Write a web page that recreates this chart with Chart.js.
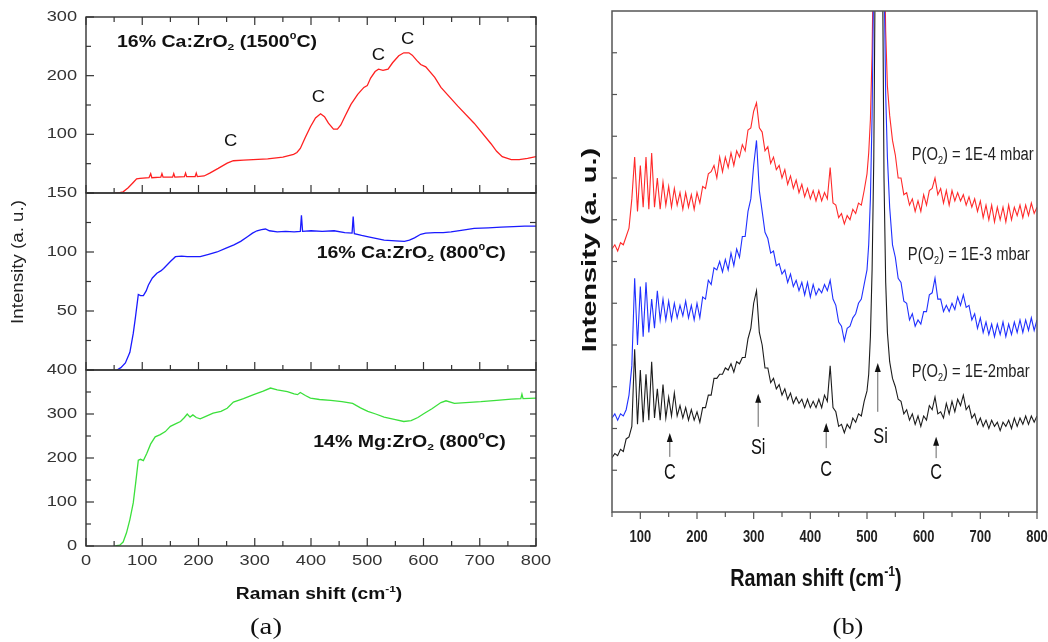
<!DOCTYPE html>
<html lang="en">
<head>
  <meta charset="UTF-8" />
  <title>Raman spectra - doped ZrO2</title>
  <script src="https://cdn.jsdelivr.net/npm/chart.js"></script>
  <style>
    body { margin: 0; background: #fff; }
    .wrap { position: relative; width: 1048px; height: 642px; }
    .wrap canvas { position: absolute; left: 0; top: 0; }
  </style>
</head>
<body>
  <div class="wrap">
    <canvas id="chartA1" width="1048" height="642"></canvas>
    <canvas id="chartA2" width="1048" height="642"></canvas>
    <canvas id="chartA3" width="1048" height="642"></canvas>
    <canvas id="chartB" width="1048" height="642"></canvas>
  </div>

  <script>
    // ---------- panel (a) : three stacked spectra ----------
    const shiftCa1500 = [52, 60, 66, 75, 84, 90, 96, 112, 115, 117, 133, 135, 137, 154, 156, 158, 175, 177, 179, 194, 196, 198, 210, 220, 235, 251, 262, 280, 323, 350, 369, 375, 381, 390, 399, 408, 417, 424, 431, 440, 447, 453, 460, 471, 483, 494, 500, 506, 514, 520, 528, 537, 545, 556, 565, 574, 580, 588, 595, 604, 620, 631, 661, 690, 720, 730, 740, 756, 770, 785, 800];
    const intCa1500   = [0, 0.5, 2, 9, 18, 24, 25, 26, 33, 26, 27, 33, 27, 27, 33, 27, 28, 34, 28, 28, 34, 28, 29, 34, 42, 51, 55, 56, 58, 61, 66, 69, 76, 95, 113, 128, 135, 130, 119, 109, 109, 116, 130, 151, 168, 180, 183, 196, 207, 211, 209, 211, 222, 234, 239, 239, 235, 226, 219, 215, 197, 180, 148, 119, 84, 71, 62, 57, 57, 59, 62];

    const shiftCa800 = [55, 62, 70, 78, 84, 88, 93, 97, 102, 107, 111, 118, 126, 133, 138, 150, 159, 170, 180, 192, 203, 218, 233, 248, 263, 275, 287, 296, 304, 312, 319, 326, 340, 355, 370, 381, 383, 385, 400, 420, 441, 460, 473, 475, 477, 490, 500, 515, 530, 550, 566, 575, 584, 595, 604, 620, 635, 649, 670, 690, 715, 738, 760, 780, 800];
    const intCa800   = [0, 2, 6, 15, 31, 45, 64, 63, 63, 67, 72, 78, 82, 84, 86, 92, 96, 96.5, 96, 96, 96, 98, 100, 103, 106, 109, 113, 116, 118, 119, 119.5, 118, 117, 117.5, 117, 117.5, 131, 117.5, 118, 117.5, 118, 116.5, 116, 130, 115.5, 114, 113, 111.5, 110, 109.5, 109, 110, 112, 115, 116, 116.5, 116.5, 117, 118.5, 120, 120.5, 121, 121.5, 122, 122];

    const shiftMg800 = [52, 60, 66, 72, 78, 84, 88, 93, 97, 102, 108, 115, 123, 132, 141, 150, 160, 168, 175, 180, 185, 190, 196, 203, 212, 226, 240, 251, 262, 280, 298, 315, 328, 340, 358, 370, 376, 381, 390, 399, 415, 435, 455, 474, 488, 501, 515, 530, 548, 565, 578, 590, 601, 615, 631, 640, 655, 675, 702, 730, 756, 773, 775, 777, 800];
    const intMg800   = [0, 2, 9, 30, 60, 98, 140, 195, 197, 194, 210, 232, 248, 253, 260, 272, 278, 283, 292, 300, 293, 298, 292, 289, 294, 302, 306, 313, 327, 335, 344, 352, 359, 355, 351, 346, 344, 349, 342, 336, 333, 331, 328, 324, 314, 306, 300, 293, 288, 283, 285, 292, 301, 312, 326, 330, 324, 326, 328, 331, 334, 335, 345, 335, 336];

    const xMajorA = [0, 100, 200, 300, 400, 500, 600, 700, 800];
    const xMinorA = [50, 150, 250, 350, 450, 550, 650, 750];

    // ---------- panel (b) : three pressures, shared shift axis ----------
    const shiftB = [50, 55, 60, 65, 70, 75, 80, 85, 90, 95,
      100, 105, 110, 115, 120, 125, 130, 135, 140, 145,
      150, 155, 160, 165, 170, 175, 180, 185, 190, 195,
      200, 205, 210, 215, 220, 225, 230, 235, 240, 245,
      250, 255, 260, 265, 270, 275, 280, 285, 290, 295,
      300, 305, 310, 315, 320, 325, 330, 335, 340, 345,
      350, 355, 360, 365, 370, 375, 380, 385, 390, 395,
      400, 405, 410, 415, 420, 425, 430, 435, 440, 445,
      450, 455, 460, 465, 470, 475, 480, 485, 490, 495,
      500,
      503, 506, 509, 512, 515, 518, 521, 524, 527, 530, 533, 536,
      540, 545,
      550, 555, 560, 565, 570, 575, 580, 585, 590, 595,
      600, 605, 610, 615, 620, 625, 630, 635, 640, 645,
      650, 655, 660, 665, 670, 675, 680, 685, 690, 695,
      700, 705, 710, 715, 720, 725, 730, 735, 740, 745,
      750, 755, 760, 765, 770, 775, 780, 785, 790, 795,
      800];

    const int1e4 = [6.3, 6.4, 6.25, 6.45, 6.4, 6.6, 6.8, 7.5, 8.5, 7.2,
      8.3, 7.3, 8.5, 7.25, 8.6, 7.3, 8.0, 7.25, 7.9, 7.35,
      7.8, 7.3, 7.75, 7.35, 7.65, 7.25, 7.65, 7.3, 7.6, 7.25,
      7.65, 7.4, 7.8, 7.75, 8.1, 8.15, 8.3, 8.0, 8.5, 8.15,
      8.5, 8.25, 8.6, 8.3, 8.65, 8.5, 8.8, 8.65, 9.15, 9.2,
      9.6, 9.8, 9.2, 9.1, 8.65, 8.75, 8.35, 8.5, 8.2, 8.3,
      8.0, 8.2, 7.85, 8.05, 7.75, 7.95, 7.65, 7.85, 7.55, 7.75,
      7.5, 7.7, 7.45, 7.7, 7.45, 7.65, 7.5, 8.25, 7.4, 7.35,
      7.05, 7.15, 6.9, 7.1, 7.0, 7.25, 7.15, 7.4, 7.35, 7.7,
      8.1,
      8.6, 9.4, 11, 14, 19, 26, 30, 26, 19, 14, 11.5, 10.2,
      9.5, 8.9,
      8.55, 8.0, 8.0, 7.6, 7.65, 7.35, 7.5, 7.2, 7.45, 7.2,
      7.6, 7.35, 7.7, 7.75, 8.0, 7.6, 7.75, 7.4, 7.7, 7.35,
      7.7, 7.45, 7.65, 7.45, 7.6, 7.35, 7.55, 7.3, 7.5, 7.2,
      7.45, 7.05, 7.35, 7.0, 7.35, 6.95, 7.3, 7.0, 7.3, 6.95,
      7.35, 7.0, 7.3, 7.1, 7.35, 7.05, 7.35, 7.1, 7.4, 7.15,
      7.3];

    const int1e3 = [2.25, 2.35, 2.2, 2.35, 2.3, 2.45, 2.8, 3.5, 5.6, 4.0,
      5.4, 4.2, 5.5, 4.3, 5.1, 4.4, 5.3, 4.6, 5.1, 4.6,
      5.05, 4.6, 5.0, 4.65, 4.95, 4.7, 5.05, 4.65, 4.95, 4.6,
      5.0, 4.65, 5.15, 5.1, 5.55, 5.45, 5.85, 5.8, 6.0, 5.75,
      6.05, 5.8, 6.2, 5.9, 6.3, 6.1, 6.6, 6.6, 7.2, 7.5,
      8.3, 8.9, 7.7, 7.2, 6.7, 6.55, 6.2, 6.25, 5.9, 5.95,
      5.7, 5.8, 5.5, 5.7, 5.4, 5.55, 5.3, 5.5, 5.2, 5.5,
      5.15, 5.45, 5.2, 5.35, 5.25, 5.45, 5.3, 5.55, 5.1, 4.95,
      4.55, 4.45, 4.1, 4.4, 4.45, 4.65, 4.75, 5.0, 5.1, 5.45,
      5.8,
      6.4, 7.5, 9.5, 13, 18, 25, 30, 25, 18, 13, 10, 8.5,
      7.3, 6.4,
      6.1, 5.6, 5.5, 5.05, 5.0, 4.6, 4.75, 4.45, 4.6, 4.5,
      4.8, 4.8, 5.2, 5.25, 5.6, 5.1, 5.1, 4.8, 4.95, 4.8,
      5.0, 4.85, 5.15, 4.95, 5.2, 4.9, 4.95, 4.6, 4.75, 4.4,
      4.65, 4.3, 4.55, 4.25, 4.5, 4.2, 4.5, 4.25, 4.55, 4.2,
      4.5, 4.25, 4.55, 4.3, 4.6, 4.3, 4.6, 4.35, 4.65, 4.35,
      4.6];

    const int1e2 = [1.3, 1.4, 1.35, 1.5, 1.45, 1.75, 1.8, 2.05, 3.9, 2.1,
      3.4, 2.15, 3.3, 2.2, 3.6, 2.25, 2.95, 2.2, 3.05, 2.25,
      2.75, 2.3, 2.85, 2.3, 2.55, 2.25, 2.5, 2.2, 2.45, 2.2,
      2.4, 2.15, 2.5, 2.5, 2.8, 2.8, 3.2, 3.2, 3.3, 3.3,
      3.45, 3.4, 3.55, 3.35, 3.6, 3.55, 3.7, 3.7, 4.15, 4.4,
      5.0, 5.3, 4.3, 4.0, 3.45, 3.45, 3.1, 3.2, 2.95, 3.05,
      2.8, 2.95, 2.7, 2.85, 2.6, 2.75, 2.6, 2.7, 2.5, 2.7,
      2.5, 2.65, 2.5, 2.7, 2.5, 2.8, 2.65, 3.5, 2.5, 2.4,
      2.05, 2.1, 1.9, 2.1, 2.0, 2.25, 2.15, 2.35, 2.3, 2.65,
      2.9,
      3.3, 4.2, 5.8, 8.5, 14, 22, 28, 22, 14, 8, 5.5, 4.3,
      3.6, 3.2,
      3.0, 2.7, 2.65, 2.35, 2.45, 2.2, 2.35, 2.1, 2.3, 2.05,
      2.3, 2.2, 2.55, 2.45, 2.75, 2.35, 2.4, 2.25, 2.6, 2.35,
      2.65, 2.4, 2.7, 2.55, 2.8, 2.45, 2.55, 2.25, 2.35, 2.1,
      2.25, 2.05, 2.2, 2.0, 2.2, 2.05, 2.15, 1.95, 2.15, 2.05,
      2.2, 2.0, 2.25, 2.05, 2.25, 2.1, 2.3, 2.1, 2.3, 2.15,
      2.3];

    const xLabelsB = [100, 200, 300, 400, 500, 600, 700, 800];
    const xMinorB = [50, 150, 250, 350, 450, 550, 650, 750];
    const yTicksB = [1, 2, 3, 4, 5, 6, 7, 8, 9, 10, 11];

    const FONT = '"Liberation Sans", Arial, sans-serif';
    const SERIF = '"Liberation Serif", "Times New Roman", serif';

    function pts(xs, ys) {
      return xs.map((x, i) => ({ x: x, y: ys[i] }));
    }

    function serie(xs, ys, color, width) {
      return { data: pts(xs, ys), borderColor: color, borderWidth: width, pointRadius: 0, tension: 0, fill: false };
    }

    // text with sub/superscripts, optional stretch (sx) and rotation
    function rich(ctx, parts, x, y, o) {
      ctx.save();
      ctx.translate(x, y);
      if (o.rot) ctx.rotate(o.rot);
      ctx.scale(o.sx || 1, 1);
      ctx.fillStyle = o.color || '#111';
      ctx.textBaseline = 'middle';
      ctx.textAlign = 'left';
      const weight = o.bold ? 'bold' : 'normal';
      const fam = o.family || FONT;
      const pieces = parts.map(p => typeof p === 'string' ? { t: p } : p);
      let total = 0;
      pieces.forEach(p => {
        p.sz = (p.sup || p.sub) ? o.size * 0.62 : o.size;
        ctx.font = weight + ' ' + p.sz + 'px ' + fam;
        p.w = ctx.measureText(p.t).width;
        total += p.w;
      });
      let cx = o.align === 'center' ? -total / 2 : (o.align === 'right' ? -total : 0);
      pieces.forEach(p => {
        ctx.font = weight + ' ' + p.sz + 'px ' + fam;
        const dy = p.sup ? -o.size * 0.36 : (p.sub ? o.size * 0.32 : 0);
        ctx.fillText(p.t, cx, dy);
        cx += p.w;
      });
      ctx.restore();
    }

    function tickMarks(chart, axis, side, values, len) {
      const ctx = chart.ctx, a = chart.chartArea, sc = chart.scales[axis];
      values.forEach(v => {
        const p = sc.getPixelForValue(v);
        ctx.beginPath();
        if (side === 'bottom') { ctx.moveTo(p, a.bottom); ctx.lineTo(p, a.bottom - len); }
        if (side === 'top') { ctx.moveTo(p, a.top); ctx.lineTo(p, a.top + len); }
        if (side === 'left') { ctx.moveTo(a.left, p); ctx.lineTo(a.left + len, p); }
        if (side === 'right') { ctx.moveTo(a.right, p); ctx.lineTo(a.right - len, p); }
        ctx.stroke();
      });
    }

    function makeChart(id, pad, xr, yr, datasets, decor) {
      return new Chart(document.getElementById(id), {
        type: 'line',
        data: { datasets: datasets },
        options: {
          responsive: false,
          animation: false,
          devicePixelRatio: 1,
          layout: { padding: pad },
          plugins: { legend: { display: false }, tooltip: { enabled: false } },
          scales: {
            x: { type: 'linear', min: xr[0], max: xr[1], display: false },
            y: { type: 'linear', min: yr[0], max: yr[1], display: false }
          }
        },
        plugins: [{ id: 'decor', afterDatasetsDraw: decor }]
      });
    }

    // common decoration of one (a) sub panel
    function panelA(chart, yMajor, yMinor, yLabels, withTop) {
      const ctx = chart.ctx, a = chart.chartArea, sy = chart.scales.y;
      ctx.save();
      ctx.strokeStyle = '#333';
      ctx.lineWidth = 1.4;
      ctx.strokeRect(a.left, a.top, a.right - a.left, a.bottom - a.top);
      ctx.lineWidth = 1.2;
      tickMarks(chart, 'x', 'bottom', xMajorA, 8);
      tickMarks(chart, 'x', 'bottom', xMinorA, 5);
      if (withTop) {
        tickMarks(chart, 'x', 'top', xMajorA, 8);
        tickMarks(chart, 'x', 'top', xMinorA, 5);
      }
      tickMarks(chart, 'y', 'left', yMajor, 8);
      tickMarks(chart, 'y', 'left', yMinor, 5);
      tickMarks(chart, 'y', 'right', yMajor, 6);
      tickMarks(chart, 'y', 'right', yMinor, 6);
      yLabels.forEach(v => {
        rich(ctx, [String(v)], a.left - 9, sy.getPixelForValue(v), { size: 14, sx: 1.3, align: 'right', color: '#333' });
      });
      ctx.restore();
    }

    function note(chart, parts, x, y, o) {
      rich(chart.ctx, parts, chart.scales.x.getPixelForValue(x), chart.scales.y.getPixelForValue(y), o);
    }

    // top: 16% Ca:ZrO2 (1500 C)
    makeChart('chartA1', { left: 86, top: 17, right: 512, bottom: 449 }, [0, 800], [0, 300],
      [serie(shiftCa1500, intCa1500, '#ff2020', 1.3)],
      function (chart) {
        panelA(chart, [0, 100, 200, 300], [50, 150, 250], [100, 200, 300], true);
        const big = { size: 16, bold: true, sx: 1.22, color: '#111' };
        note(chart, ['16% Ca:ZrO', { t: '2', sub: true }, ' (1500', { t: '0', sup: true }, 'C)'], 55, 257, big);
        const c = { size: 16, sx: 1.15, align: 'center', color: '#111' };
        note(chart, ['C'], 257, 87, c);
        note(chart, ['C'], 413, 162, c);
        note(chart, ['C'], 520, 235, c);
        note(chart, ['C'], 572, 261, c);
        rich(chart.ctx, ['Intensity (a. u.)'], 19, 262, { size: 16, sx: 1.17, align: 'center', rot: -Math.PI / 2, color: '#222' });
      });

    // middle: 16% Ca:ZrO2 (800 C)
    makeChart('chartA2', { left: 86, top: 193, right: 512, bottom: 272 }, [0, 800], [0, 150],
      [serie(shiftCa800, intCa800, '#1a1aff', 1.3)],
      function (chart) {
        panelA(chart, [0, 50, 100, 150], [25, 75, 125], [50, 100, 150], false);
        note(chart, ['16% Ca:ZrO', { t: '2', sub: true }, ' (800', { t: '0', sup: true }, 'C)'], 410, 99,
          { size: 16, bold: true, sx: 1.22, color: '#111' });
      });

    // bottom: 14% Mg:ZrO2 (800 C)
    makeChart('chartA3', { left: 86, top: 370, right: 512, bottom: 96 }, [0, 800], [0, 400],
      [serie(shiftMg800, intMg800, '#3ce03c', 1.3)],
      function (chart) {
        panelA(chart, [0, 100, 200, 300, 400], [50, 150, 250, 350], [0, 100, 200, 300, 400], false);
        const ctx = chart.ctx, a = chart.chartArea, sx = chart.scales.x;
        note(chart, ['14% Mg:ZrO', { t: '2', sub: true }, ' (800', { t: '0', sup: true }, 'C)'], 404, 236,
          { size: 16, bold: true, sx: 1.22, color: '#111' });
        xMajorA.forEach(v => {
          rich(ctx, [String(v)], sx.getPixelForValue(v), a.bottom + 15, { size: 14, sx: 1.3, align: 'center', color: '#333' });
        });
        rich(ctx, ['Raman shift (cm', { t: '-1', sup: true }, ')'], 319, 595, { size: 16, bold: true, sx: 1.2, align: 'center', color: '#111' });
        rich(ctx, ['(a)'], 266, 628, { size: 24, sx: 1.2, align: 'center', family: SERIF, color: '#111' });
      });

    // panel (b)
    makeChart('chartB', { left: 612, top: 11, right: 11, bottom: 130 }, [50, 800], [0, 12],
      [serie(shiftB, int1e2, '#1c1c1c', 1.1),
       serie(shiftB, int1e3, '#2030ff', 1.1),
       serie(shiftB, int1e4, '#ff2a2a', 1.1)],
      function (chart) {
        const ctx = chart.ctx, a = chart.chartArea, sx = chart.scales.x, sy = chart.scales.y;
        ctx.save();
        ctx.strokeStyle = '#555';
        ctx.lineWidth = 1.5;
        ctx.strokeRect(a.left, a.top, a.right - a.left, a.bottom - a.top);
        ctx.lineWidth = 1.2;
        tickMarks(chart, 'y', 'left', yTicksB, 5);
        tickMarks(chart, 'x', 'bottom', xLabelsB, -7);
        tickMarks(chart, 'x', 'bottom', xMinorB, -5);
        xLabelsB.forEach(v => {
          rich(ctx, [String(v)], sx.getPixelForValue(v), a.bottom + 25, { size: 17, bold: true, sx: 0.76, align: 'center', color: '#222' });
        });

        // arrows marking C and Si bands
        [[152, 1.32, 1.89], [308, 2.04, 2.83], [428, 1.53, 2.13], [519, 2.4, 3.57], [622, 1.29, 1.8]].forEach(r => {
          const px = sx.getPixelForValue(r[0]), p0 = sy.getPixelForValue(r[1]), p1 = sy.getPixelForValue(r[2]);
          ctx.strokeStyle = '#666';
          ctx.lineWidth = 1;
          ctx.beginPath(); ctx.moveTo(px, p0); ctx.lineTo(px, p1 + 5); ctx.stroke();
          ctx.fillStyle = '#111';
          ctx.beginPath(); ctx.moveTo(px, p1); ctx.lineTo(px - 3, p1 + 9); ctx.lineTo(px + 3, p1 + 9); ctx.closePath(); ctx.fill();
        });
        const lab = { size: 22, sx: 0.74, align: 'center', color: '#111' };
        note(chart, ['C'], 152, 0.93, lab);
        note(chart, ['Si'], 308, 1.53, lab);
        note(chart, ['C'], 428, 1.0, lab);
        note(chart, ['Si'], 524, 1.8, lab);
        note(chart, ['C'], 622, 0.93, lab);

        const pl = { size: 18, sx: 0.82, color: '#222' };
        note(chart, ['P(O', { t: '2', sub: true }, ') = 1E-4 mbar'], 579, 8.55, pl);
        note(chart, ['P(O', { t: '2', sub: true }, ') = 1E-3 mbar'], 572, 6.16, pl);
        note(chart, ['P(O', { t: '2', sub: true }, ') = 1E-2mbar'], 579, 3.35, pl);

        rich(ctx, ['Intensity (a. u.)'], 590, 250, { size: 21, bold: true, sx: 1.38, align: 'center', rot: -Math.PI / 2, color: '#111' });
        rich(ctx, ['Raman shift (cm', { t: '-1', sup: true }, ')'], 816, 580, { size: 23, bold: true, sx: 0.86, align: 'center', color: '#111' });
        rich(ctx, ['(b)'], 848, 628, { size: 24, sx: 1.1, align: 'center', family: SERIF, color: '#111' });
        ctx.restore();
      });
  </script>
</body>
</html>
